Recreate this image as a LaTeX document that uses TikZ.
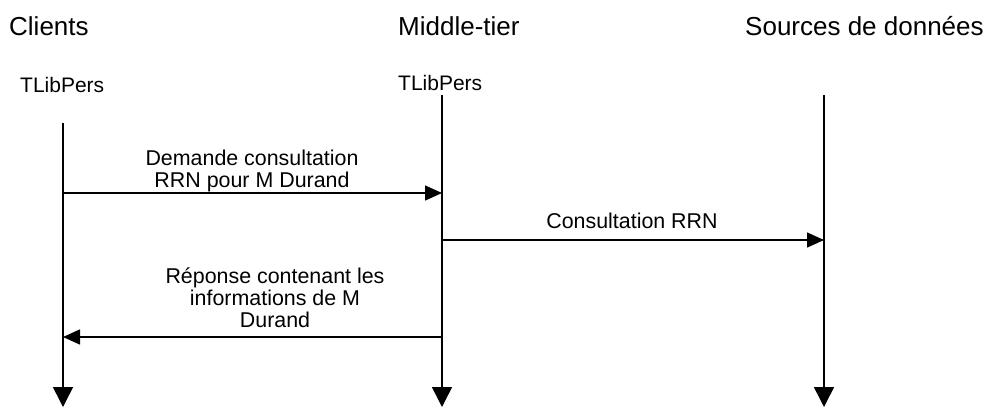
\documentclass[tikz,border=0pt]{standalone}
\usepackage{fontspec}
\setmainfont{Liberation Sans}
\usetikzlibrary{arrows.meta}
\begin{document}
\begin{tikzpicture}[x=1pt,y=-1pt,
  title/.style={anchor=base west, inner sep=0pt, font=\fontsize{26}{30}\selectfont},
  hdr/.style={anchor=base west, inner sep=0pt, font=\fontsize{21}{24}\selectfont},
  msg/.style={align=center, inner sep=0pt, font=\fontsize{21.4}{22}\selectfont},
  life/.style={line width=1.5pt, -{Triangle[length=20pt,width=20pt]}},
  call/.style={line width=1.5pt, -{Triangle[length=17pt,width=15pt]}}]
\useasboundingbox[fill=white] (0,0) rectangle (994,408);
% titles
\node[title] (tc) at (9,35) {Clients};
\node[title] (tm) at (398,35) {Middle-tier};
\node[title] (ts) at (745,35) {Sources de données};
% lifeline headers
\node[hdr] (hc) at (20,92) {TLibPers};
\node[hdr] (hm) at (398,90) {TLibPers};
% lifeline ends
\coordinate (c0) at (63,123);
\coordinate (c1) at (63,407);
\coordinate (m0) at (442,95);
\coordinate (m1) at (442,407);
\coordinate (s0) at (824,95);
\coordinate (s1) at (824,407);
% message points
\coordinate (ca) at (63,193);
\coordinate (ma) at (442,193);
\coordinate (mb) at (442,240);
\coordinate (sb) at (824,240);
\coordinate (mc) at (442,337);
\coordinate (cc) at (63,337);
% lifelines
\draw[life] (c0) -- (c1);
\draw[life] (m0) -- (m1);
\draw[life] (s0) -- (s1);
% messages
\draw[call] (ca) -- (ma);
\draw[call] (mb) -- (sb);
\draw[call] (mc) -- (cc);
% labels (anchor base = baseline of the last line)
\node[msg, anchor=base] (l1) at (252,187) {Demande consultation\\RRN pour M Durand};
\node[msg, anchor=base] (l2) at (632,228) {Consultation RRN};
\node[msg, anchor=base] (l3) at (275,327) {Réponse contenant les\\informations de M\\Durand};
\end{tikzpicture}
\end{document}
